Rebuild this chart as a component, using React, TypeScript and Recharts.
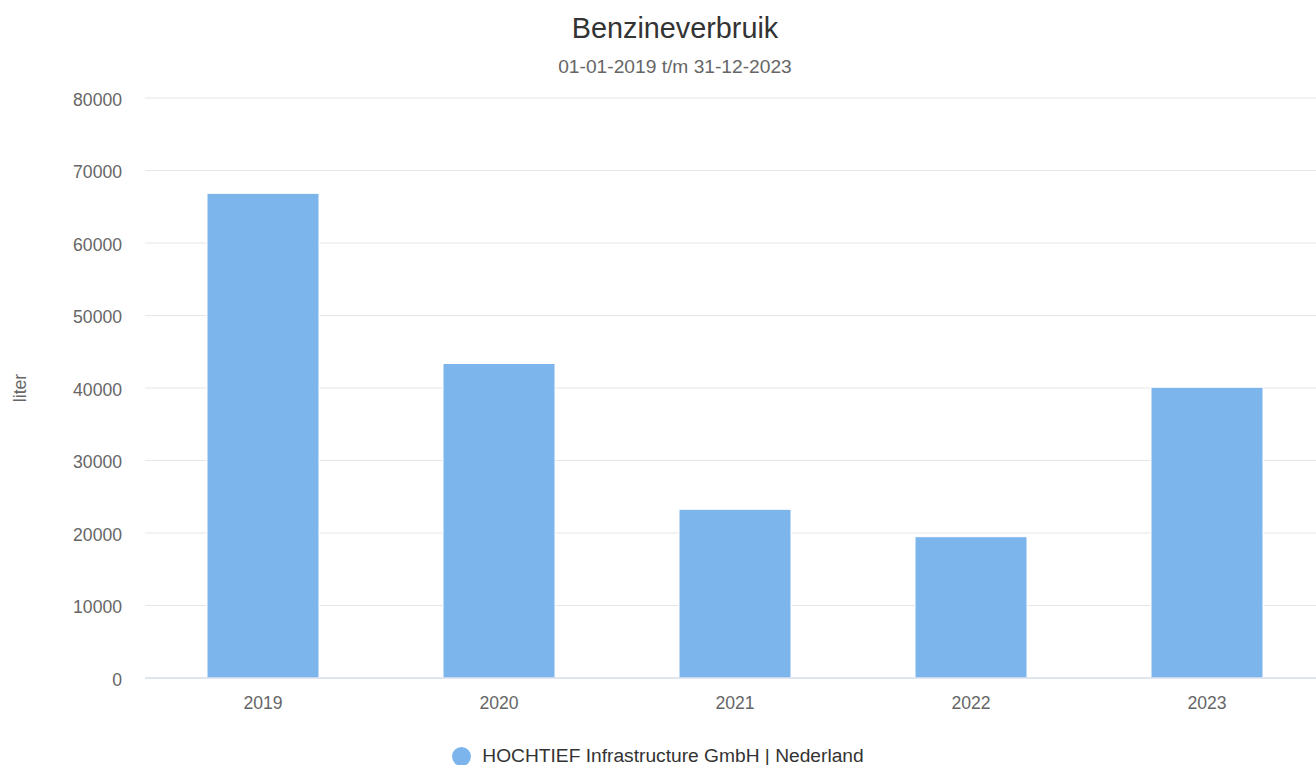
import { BarChart, Bar, XAxis, YAxis, CartesianGrid, Legend } from 'recharts';

const years = ['2019', '2020', '2021', '2022', '2023'];
const benzine = [66850, 43380, 23270, 19490, 40100];
const yTicks = [0, 10000, 20000, 30000, 40000, 50000, 60000, 70000, 80000];
const seriesName = 'HOCHTIEF Infrastructure GmbH | Nederland';

const FONT = '"Liberation Sans", Arial, Helvetica, sans-serif';

const chartData = years.map((year, i) => ({ year, value: benzine[i] }));

const YTick = ({ x, y, payload }: any) => (
  <text x={x} y={y} dy={7.7} textAnchor="end" fill="#666666" fontSize={17.6} fontFamily={FONT}>
    {payload.value}
  </text>
);

const XTick = ({ x, y, payload }: any) => (
  <text x={x} y={y} dy={12.5} textAnchor="middle" fill="#666666" fontSize={17.6} fontFamily={FONT}>
    {payload.value}
  </text>
);

const LegendContent = ({ payload }: any) => (
  <div style={{ display: 'flex', justifyContent: 'center', height: 24, alignItems: 'center' }}>
    {(payload || []).map((entry: any) => (
      <div key={entry.value} style={{ display: 'flex', alignItems: 'center' }}>
        <span
          style={{
            display: 'inline-block',
            width: 19,
            height: 19,
            borderRadius: '50%',
            background: entry.color,
            marginRight: 11,
          }}
        />
        <span style={{ color: '#333333', fontSize: 19.2, fontFamily: FONT }}>{entry.value}</span>
      </div>
    ))}
  </div>
);

export default function App() {
  return (
    <div
      style={{
        position: 'absolute',
        left: 0,
        top: 0,
        width: 1316,
        height: 765,
        overflow: 'hidden',
        background: '#fff',
        fontFamily: FONT,
      }}
    >
      <div
        style={{
          position: 'absolute',
          top: 13.6,
          left: 0,
          width: 1350,
          textAlign: 'center',
          fontSize: 28.8,
          lineHeight: '28.8px',
          color: '#333333',
        }}
      >
        Benzineverbruik
      </div>
      <div
        style={{
          position: 'absolute',
          top: 56.8,
          left: 0,
          width: 1350,
          textAlign: 'center',
          fontSize: 19.2,
          lineHeight: '19.2px',
          color: '#666666',
        }}
      >
        01-01-2019 t/m 31-12-2023
      </div>
      <BarChart
        width={1325}
        height={765}
        data={chartData}
        margin={{ top: 98, right: 0, left: 0, bottom: 23 }}
      >
        <CartesianGrid horizontal vertical={false} stroke="#e6e6e6" />
        <XAxis
          dataKey="year"
          height={40}
          tickLine={false}
          tickSize={0}
          tickMargin={18}
          axisLine={{ stroke: '#ccd6eb' }}
          tick={<XTick />}
        />
        <YAxis
          width={145}
          domain={[0, 80000]}
          ticks={yTicks}
          interval={0}
          axisLine={false}
          tickLine={false}
          tickSize={0}
          tickMargin={23}
          tick={<YTick />}
          label={{
            value: 'liter',
            content: ({ viewBox }: any) => (
              <text
                x={viewBox.x + 25.5}
                y={viewBox.y + viewBox.height / 2}
                transform={`rotate(-90, ${viewBox.x + 25.5}, ${viewBox.y + viewBox.height / 2})`}
                textAnchor="middle"
                fill="#666666"
                fontSize={17.6}
                fontFamily={FONT}
              >
                liter
              </text>
            ),
          }}
        />
        <Legend
          verticalAlign="bottom"
          content={<LegendContent />}
          wrapperStyle={{ top: 744, bottom: 'auto', left: 0, width: 1316 }}
        />
        <Bar
          dataKey="value"
          name={seriesName}
          fill="#7cb5ec"
          stroke="#ffffff"
          strokeWidth={1}
          barSize={112}
          isAnimationActive={false}
        />
      </BarChart>
    </div>
  );
}
